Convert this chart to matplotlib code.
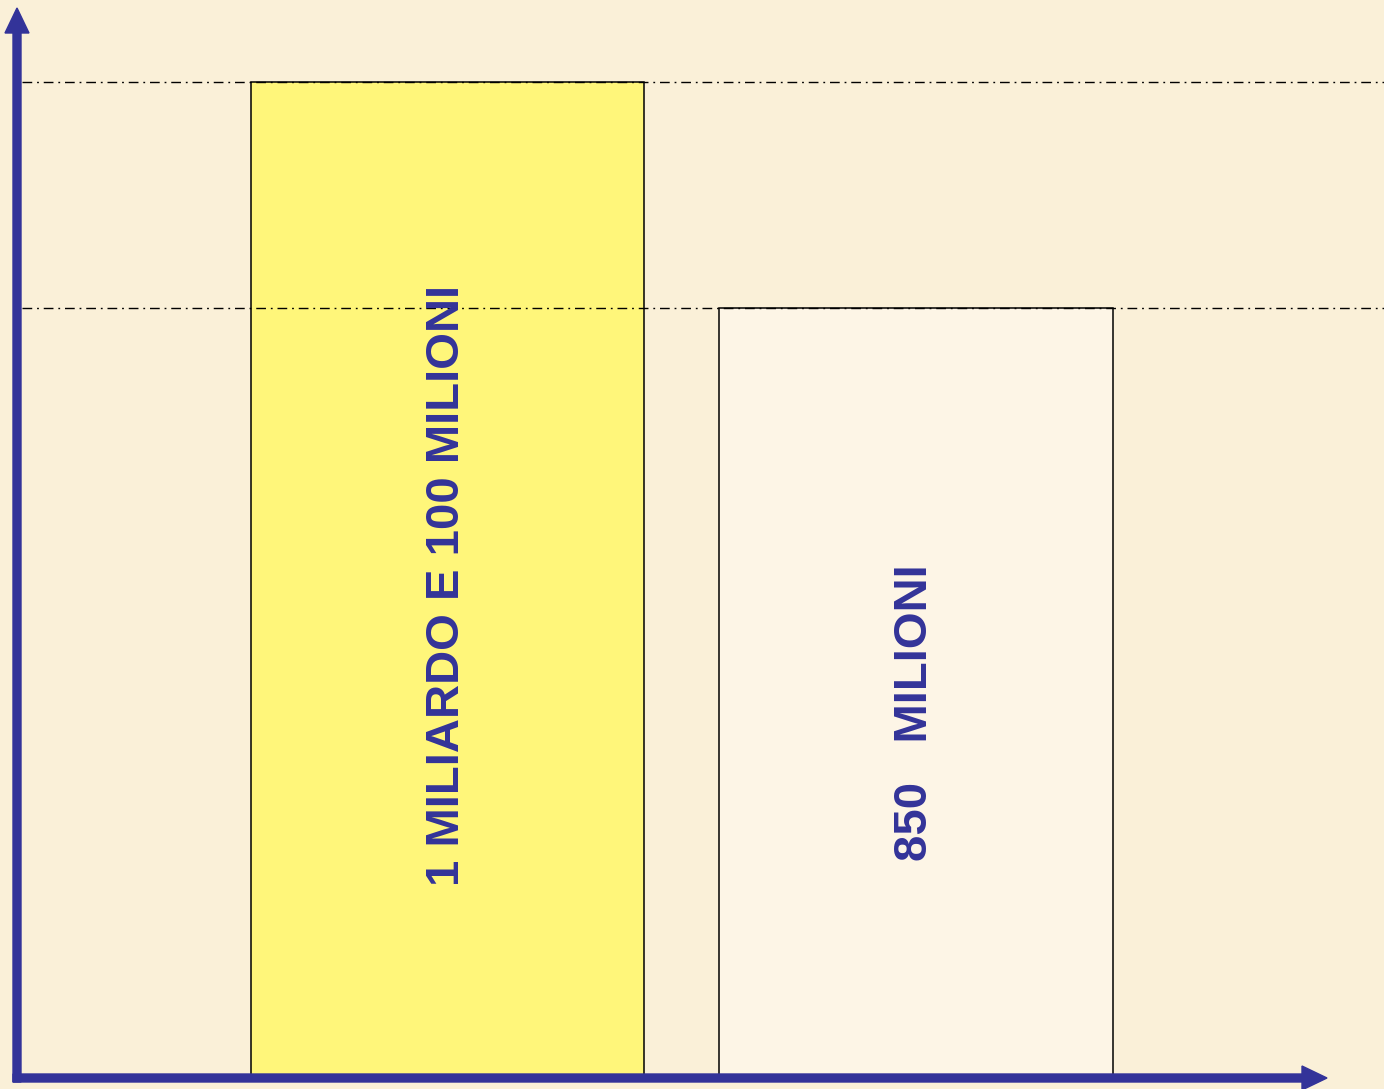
import matplotlib.pyplot as plt
from matplotlib.patches import FancyArrow

# data
labels = ["1 MILIARDO E 100 MILIONI", "850   MILIONI"]
values = [1100, 850]
bar_colors = ["#FFF67A", "#FDF5E6"]
label_y = [544, 404]

BG = "#FAF0D8"
BLUE = "#333399"

fig = plt.figure(figsize=(13.84, 10.89), dpi=100)
fig.patch.set_facecolor(BG)

ax = fig.add_axes([0, 0, 1, 1])
ax.set_facecolor(BG)
x = range(len(values))
ax.bar(x, values, width=0.839, color=bar_colors, edgecolor="black", linewidth=1.1, zorder=2)

# dash-dot reference lines at each bar height
for v in values:
    ax.axhline(v, xmin=22 / 1384, xmax=1, color="black", linewidth=1.0,
               dashes=(7, 3.5, 1.3, 3.5), zorder=3)

for i, (lab, y) in enumerate(zip(labels, label_y)):
    ax.text(i - 0.002, y, lab, rotation=90, ha="center", va="center",
            fontsize=34, fontweight="bold", color=BLUE,
            family="Liberation Sans", zorder=4)

ax.set_xlim(-447.5 / 468.5, (1384 - 447.5) / 468.5)
ax.set_ylim(-(1089 - 1078) / 0.9055, 1078 / 0.9055)
ax.axis("off")

# axis arrows drawn in pixel space on an overlay
ov = fig.add_axes([0, 0, 1, 1])
ov.set_xlim(0, 1384)
ov.set_ylim(1089, 0)
ov.axis("off")
ov.patch.set_alpha(0)
ov.add_patch(FancyArrow(17, 1082, 0, -1074, width=8, head_width=24, head_length=25,
                        length_includes_head=True, color=BLUE, zorder=5))
ov.add_patch(FancyArrow(13, 1078, 1314, 0, width=8, head_width=24, head_length=25,
                        length_includes_head=True, color=BLUE, zorder=5))

fig.savefig("out.png", dpi=100, facecolor=BG)
